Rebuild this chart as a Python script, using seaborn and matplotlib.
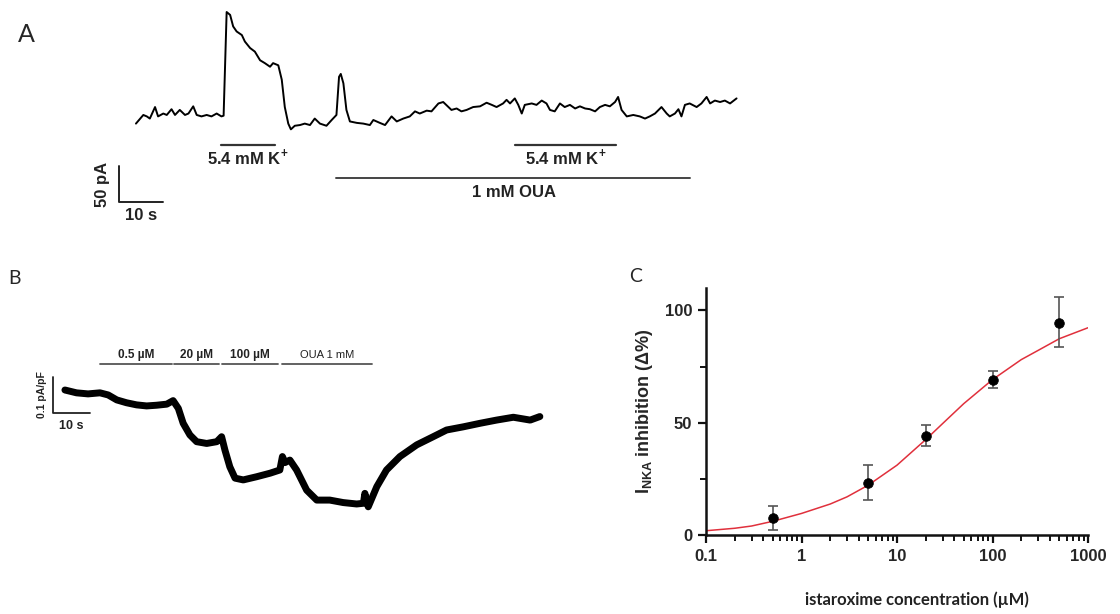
import matplotlib
matplotlib.use('Agg')
import matplotlib.pyplot as plt
import matplotlib.ticker as mticker
import seaborn as sns
import numpy as np

# ---------------- Panel A: whole-cell current trace (s, pA) ----------------
trace_a_time = [0.0, 1.7, 2.5, 3.2, 4.4, 5.1, 6.3, 7.1, 8.2, 9.0, 10.1, 11.3, 12.1, 13.2, 14.0,
                15.1, 16.3, 17.4, 18.6, 19.7, 20.2, 20.9, 21.7, 22.4, 23.2, 24.4, 25.1, 26.3, 27.4,
                28.6, 29.7, 30.9, 31.6, 32.8, 33.6, 34.3, 35.1, 35.7, 36.6, 37.8, 38.9, 40.1, 41.2,
                42.4, 43.9, 45.1, 46.2, 46.8, 47.2, 47.8, 48.5, 49.3, 50.9, 52.4, 53.9, 54.7, 56.2,
                57.4, 58.9, 60.1, 61.6, 63.1, 64.3, 65.4, 67.0, 68.1, 69.7, 70.8, 72.0, 72.7, 73.9,
                75.0, 76.2, 77.7, 79.3, 80.8, 82.0, 83.1, 84.6, 85.4, 86.2, 87.3, 88.1, 88.9, 89.6,
                91.2, 92.3, 93.5, 94.6, 95.4, 96.5, 97.7, 98.8, 100.0, 101.2, 102.3, 103.5, 104.6,
                105.8, 106.9, 108.1, 109.2, 110.4, 111.1, 111.9, 113.1, 114.6, 116.1, 117.3, 118.4,
                119.6, 121.1, 122.3, 123.0, 124.2, 125.0, 125.7, 126.5, 127.6, 129.2, 130.3, 131.5,
                132.3, 133.4, 134.6, 135.7, 136.9, 138.4]
trace_a_current = [-5, 7, 5, 2, 18, 5, 9, 7, 15, 7, 14, 7, 9, 19, 7,
                   5, 7, 5, 9, 5, 6, 150, 146, 130, 123, 118, 109, 100, 95,
                   83, 79, 74, 79, 76, 56, 18, -5, -13, -8, -7, -5, -7, 2,
                   -5, -8, 0, 7, 60, 64, 51, 14, -2, -4, -5, -7, 0, -4,
                   -7, 5, -2, 2, 5, 12, 9, 13, 12, 23, 25, 18, 14, 16,
                   12, 14, 18, 19, 24, 21, 18, 23, 28, 23, 30, 21, 9, 21,
                   23, 21, 27, 23, 14, 12, 23, 18, 21, 16, 19, 16, 15,
                   12, 18, 21, 19, 25, 32, 14, 5, 7, 5, 2, 5,
                   9, 18, 9, 5, 9, 15, 5, 21, 23, 18, 23, 32,
                   23, 27, 25, 27, 23, 30]
k_bars_a = [(19.7, 32.0), (87.4, 110.7)]
oua_bar_a = (46.1, 127.6)

# ---------------- Panel B: istaroxime current trace (s, pA/pF) ----------------
trace_b_time = [0.0, 3.1, 6.2, 9.4, 11.6, 13.9, 16.5, 19.2, 21.9, 24.6, 27.3, 29.0, 30.4, 31.7,
                33.5, 35.3, 38.0, 40.7, 42.0, 42.9, 44.2, 45.6, 47.8, 51.4, 55.0, 57.6, 58.3, 59.0,
                60.3, 62.1, 64.8, 67.5, 71.0, 74.6, 78.2, 80.0, 80.4, 81.3, 83.6, 86.2, 89.8, 94.3,
                98.7, 102.3, 106.8, 111.3, 115.7, 120.2, 124.7, 127.3]
trace_b_current = [0.0, -0.008, -0.011, -0.008, -0.014, -0.028, -0.036, -0.042, -0.045, -0.043,
                   -0.040, -0.030, -0.052, -0.094, -0.127, -0.146, -0.151, -0.146, -0.132, -0.170,
                   -0.217, -0.249, -0.254, -0.245, -0.235, -0.226, -0.188, -0.205, -0.198, -0.226,
                   -0.283, -0.311, -0.311, -0.318, -0.322, -0.320, -0.292, -0.330, -0.273, -0.226,
                   -0.188, -0.155, -0.132, -0.113, -0.104, -0.094, -0.085, -0.077, -0.085, -0.075]
drug_labels_b = ['0.5 µM', '20 µM', '100 µM', 'OUA 1 mM']
drug_bars_b = [(9.4, 28.6), (29.2, 41.4), (42.2, 57.2), (58.1, 82.4)]

# ---------------- Panel C: concentration-response ----------------
conc = [0.5, 5, 20, 100, 500]
inhibition = [7.7, 23.0, 44.1, 68.9, 94.5]
err_low = [5.5, 7.4, 4.4, 3.4, 10.8]
err_high = [5.3, 8.0, 4.8, 4.3, 11.4]
fit_conc = [0.1, 0.2, 0.3, 0.5, 1, 2, 3, 5, 10, 20, 30, 50, 100, 200, 300, 500, 1000]
fit_inhibition = [1.9, 3.0, 4.0, 6.1, 9.6, 13.8, 17.0, 22.2, 31.1, 42.5, 49.6, 58.5, 69.2,
                  78.1, 82.2, 87.4, 92.3]

sns.set_style('ticks')
plt.rcParams['font.family'] = ['Liberation Sans', 'DejaVu Sans']
plt.rcParams['mathtext.fontset'] = 'custom'
plt.rcParams['mathtext.rm'] = 'Liberation Sans'
plt.rcParams['mathtext.bf'] = 'Liberation Sans:bold'

W, H = 1120, 614
fig = plt.figure(figsize=(11.2, 6.14), dpi=100)


def px_axes(left, top, right, bottom):
    return fig.add_axes([left / W, 1 - bottom / H, (right - left) / W, (bottom - top) / H])


# ---- A ----
ax_a = px_axes(60, 0, 760, 230)
sns.lineplot(x=trace_a_time, y=trace_a_current, ax=ax_a, color='black', lw=1.4,
             sort=False, estimator=None)
ax_a.set_xlim(-17.5, 143.8)
ax_a.set_ylim(-152.8, 166.7)
ax_a.axis('off')
bold12 = dict(fontsize=12, fontweight='bold', color='#222222')
for (t0, t1) in k_bars_a:
    ax_a.plot([t0, t1], [-34.7, -34.7], color='#333333', lw=1.6)
    ax_a.text((t0 + t1) / 2, -51, r'5.4 mM K$^{\mathbf{+}}$', ha='center', va='center', **bold12)
ax_a.plot(oua_bar_a, [-80.6, -80.6], color='#444444', lw=1.4)
ax_a.text(87, -101.4, '1 mM OUA', ha='center', va='center', **bold12)
# scale bar 10 s / 50 pA
ax_a.plot([-3.85, -3.85, 6.15], [-63.5, -113.5, -113.5], color='#222222', lw=1.4)
ax_a.text(-7.7, -90, '50 pA', rotation=90, ha='center', va='center', **bold12)
ax_a.text(1.1, -132, '10 s', ha='center', va='center', **bold12)

# ---- B ----
ax_b = px_axes(0, 290, 560, 530)
sns.lineplot(x=trace_b_time, y=trace_b_current, ax=ax_b, color='black', lw=5,
             sort=False, estimator=None)
ax_b.set_xlim(-17.4, 132.7)
ax_b.set_ylim(-0.3955, 0.2825)
ax_b.axis('off')
for i, (lab, (t0, t1)) in enumerate(zip(drug_labels_b, drug_bars_b)):
    ax_b.plot([t0, t1], [0.0726, 0.0726], color='#555555', lw=1.3)
    ax_b.text((t0 + t1) / 2, 0.098, lab, ha='center', va='center', fontsize=8.5 if i < 3 else 8,
              fontweight='bold' if i < 3 else 'normal', color='#222222')
ax_b.plot([-3.3, -3.3, 6.7], [0.0359, -0.0641, -0.0641], color='#222222', lw=1.3)
ax_b.text(-6.25, -0.014, '0.1 pA/pF', rotation=90, ha='center', va='center',
          fontsize=7.5, fontweight='bold', color='#222222')
ax_b.text(1.6, -0.101, '10 s', ha='center', va='center', fontsize=9, fontweight='bold',
          color='#222222')

# ---- C ----
ax_c = px_axes(706, 288, 1088, 535)
sns.lineplot(x=fit_conc, y=fit_inhibition, ax=ax_c, color='#e0303c', lw=1.1,
             sort=False, estimator=None)
ax_c.errorbar(conc, inhibition, yerr=[err_low, err_high], fmt='none', ecolor='#555555',
              elinewidth=1.2, capsize=3.6, capthick=1.2)
sns.scatterplot(x=conc, y=inhibition, ax=ax_c, color='black', s=48, edgecolor='black',
                zorder=5)
ax_c.set_xscale('log')
ax_c.set_xlim(0.1, 1000)
ax_c.set_ylim(0, 110)
ax_c.set_xticks([0.1, 1, 10, 100, 1000])
ax_c.set_xticklabels(['0.1', '1', '10', '100', '1000'])
ax_c.xaxis.set_minor_locator(mticker.LogLocator(base=10, subs=np.arange(2, 10)))
ax_c.xaxis.set_minor_formatter(mticker.NullFormatter())
ax_c.set_yticks([0, 50, 100])
ax_c.yaxis.set_minor_locator(mticker.FixedLocator([25, 75]))
sns.despine(ax=ax_c)
for side in ['left', 'bottom']:
    ax_c.spines[side].set_linewidth(1.8)
    ax_c.spines[side].set_color('#111111')
ax_c.tick_params(which='major', length=6, width=1.6, color='#111111', labelsize=12, pad=4)
ax_c.tick_params(which='minor', length=4, width=1.4, color='#111111')
for lab in ax_c.get_xticklabels() + ax_c.get_yticklabels():
    lab.set_fontweight('bold')
ax_c.set_ylabel(r'$\mathbf{I}_{\mathbf{NKA}}$ inhibition (Δ%)', fontsize=13,
                fontweight='bold', va='center')
ax_c.yaxis.set_label_coords(-0.16, 0.5)
ax_c.set_xlabel('istaroxime concentration (µM)', fontsize=12, fontweight='bold',
                family=['Lato', 'DejaVu Sans'], va='center', color='#222222')
ax_c.xaxis.set_label_coords(0.552, -0.263)

# panel letters
fig.text(26 / W, 1 - 34 / H, 'A', fontsize=18, ha='center', va='center',
         family=['Lato', 'DejaVu Sans'])
fig.text(15 / W, 1 - 278 / H, 'B', fontsize=14, ha='center', va='center',
         family=['Lato', 'DejaVu Sans'])
fig.text(636 / W, 1 - 276 / H, 'C', fontsize=14, ha='center', va='center',
         family=['Lato', 'DejaVu Sans'])

fig.savefig('out.png', dpi=100)
